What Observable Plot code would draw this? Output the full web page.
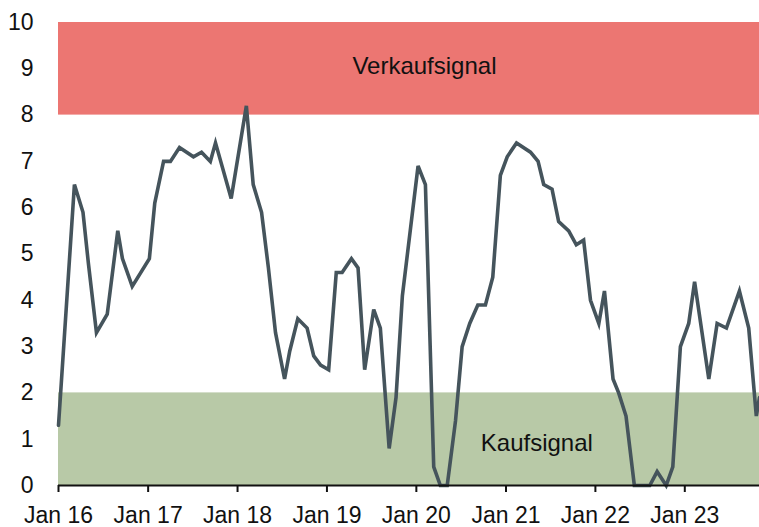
<!DOCTYPE html>
<html><head><meta charset="utf-8">
<script src="https://cdn.jsdelivr.net/npm/d3@7"></script>
<script src="https://cdn.jsdelivr.net/npm/@observablehq/plot@0.6"></script>
<style>body{margin:0;background:#fff}</style>
</head><body><div id="chart"></div>
<script>
const dates = ["2016-01-01","2016-03-06","2016-04-10","2016-05-02","2016-06-04","2016-07-18","2016-08-30","2016-09-18","2016-10-28",
"2017-01-06","2017-01-28","2017-03-05","2017-04-02","2017-05-09","2017-07-05","2017-08-07","2017-09-12","2017-10-03","2017-12-06",
"2018-02-06","2018-03-06","2018-04-09","2018-05-07","2018-06-05","2018-07-12","2018-08-02","2018-09-04","2018-10-12","2018-11-08","2018-12-06",
"2019-01-08","2019-02-08","2019-03-04","2019-04-11","2019-05-08","2019-06-04","2019-07-11","2019-08-07","2019-09-12","2019-10-10","2019-11-05",
"2020-01-08","2020-02-07","2020-03-12","2020-04-08","2020-05-06","2020-06-09","2020-07-06","2020-08-06","2020-09-08","2020-10-09","2020-11-08","2020-12-09",
"2021-01-06","2021-02-13","2021-04-11","2021-05-12","2021-06-04","2021-07-08","2021-08-04","2021-09-14","2021-10-15","2021-11-14","2021-12-12",
"2022-01-15","2022-02-07","2022-03-14","2022-04-06","2022-05-06","2022-06-09","2022-08-11","2022-09-10","2022-10-17","2022-11-13","2022-12-14",
"2023-01-17","2023-02-10","2023-04-09","2023-05-13","2023-06-20","2023-08-12","2023-09-19","2023-10-20","2023-11-02"];
const values = [1.3,6.5,5.9,4.8,3.3,3.7,5.5,4.9,4.3,
4.9,6.1,7.0,7.0,7.3,7.1,7.2,7.0,7.4,6.2,
8.2,6.5,5.9,4.7,3.3,2.3,2.9,3.6,3.4,2.8,2.6,
2.5,4.6,4.6,4.9,4.7,2.5,3.8,3.4,0.8,1.9,4.1,
6.9,6.5,0.4,0,0,1.4,3.0,3.5,3.9,3.9,4.5,6.7,
7.1,7.4,7.2,7.0,6.5,6.4,5.7,5.5,5.2,5.3,4.0,
3.5,4.2,2.3,2.0,1.5,0,0,0.3,0,0.4,3.0,
3.5,4.4,2.3,3.5,3.4,4.2,3.4,1.5,1.9];
const yTicks = [0,1,2,3,4,5,6,7,8,9,10];
const xTicks = ["2016-01-01","2017-01-01","2018-01-01","2019-01-01","2020-01-01","2021-01-01","2022-01-01","2023-01-01"];
const xTickLabels = ["Jan 16","Jan 17","Jan 18","Jan 19","Jan 20","Jan 21","Jan 22","Jan 23"];
const zoneNames = ["Verkaufsignal","Kaufsignal"];
const zoneLow = [8,0];
const zoneHigh = [10,2];
const zoneColors = ["#ec7672","#b8c9a7"];

const series = dates.map((d,i) => ({date: new Date(d), value: values[i]}));
const zones = zoneNames.map((n,i) => ({name: n, lo: zoneLow[i], hi: zoneHigh[i], color: zoneColors[i]}));
const xStart = new Date("2016-01-01"), xEnd = new Date("2023-11-02");
const tickDates = xTicks.map(d => new Date(d));
const labelX = {"Verkaufsignal": new Date("2020-02-03"), "Kaufsignal": new Date("2021-05-07")};
const labelY = {"Verkaufsignal": 9.05, "Kaufsignal": 0.92};

const chart = Plot.plot({
  width: 759, height: 527,
  marginLeft: 58, marginRight: 0, marginTop: 22, marginBottom: 42,
  style: {fontFamily: "'Liberation Sans', Arial, Helvetica, sans-serif", fontSize: "23px", color: "#111", background: "#fff"},
  x: {type: "utc", domain: [xStart, xEnd]},
  y: {domain: [0, 10]},
  marks: [
    Plot.rect(zones, {x1: () => xStart, x2: () => xEnd, y1: "lo", y2: "hi", fill: "color"}),
    Plot.text(zones, {x: d => labelX[d.name], y: d => labelY[d.name], text: "name", fontSize: 24, fill: "#111"}),
    Plot.line(series, {x: "date", y: "value", stroke: "#45545c", strokeWidth: 3.6, strokeLinejoin: "miter", strokeMiterlimit: 4}),
    Plot.ruleY([0], {stroke: "#111", strokeWidth: 2}),
    Plot.axisX({ticks: tickDates, tickFormat: d => xTickLabels[tickDates.findIndex(t => +t === +d)], tickSize: 7, tickPadding: 14, strokeWidth: 2, stroke: "#111", fill: "#111", fontSize: 23}),
    Plot.axisY({ticks: yTicks, tickSize: 0, tickPadding: 25, fill: "#111", fontSize: 23})
  ]
});
document.getElementById("chart").appendChild(chart);
</script>
</body></html>
